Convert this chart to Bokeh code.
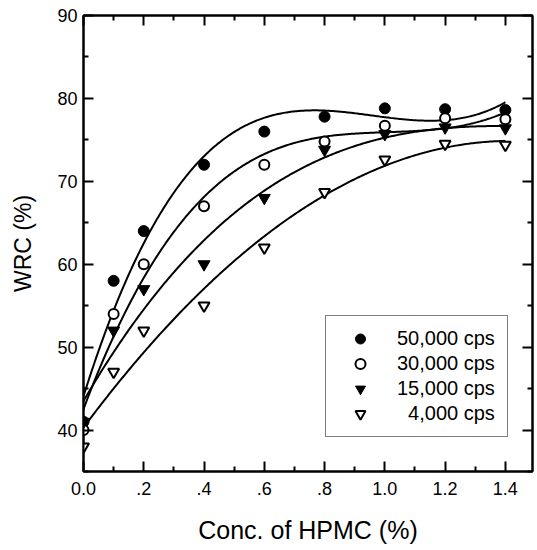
import numpy as np
from bokeh.plotting import figure
from bokeh.models import (LinearAxis, FixedTicker, Range1d, Legend, LegendItem,
                          CustomJSTickFormatter)
from bokeh.embed import file_html
from bokeh.resources import INLINE

# ---- data ----
conc = [0.0, 0.1, 0.2, 0.4, 0.6, 0.8, 1.0, 1.2, 1.4]
wrc_50000 = [41.0, 58.0, 64.0, 72.0, 76.0, 77.8, 78.8, 78.7, 78.6]
wrc_30000 = [40.0, 54.0, 60.0, 67.0, 72.0, 74.8, 76.7, 77.6, 77.5]
wrc_15000 = [41.0, 52.0, 57.0, 60.0, 68.0, 73.8, 75.7, 76.5, 76.4]
wrc_4000 = [38.0, 47.0, 52.0, 55.0, 62.0, 68.7, 72.6, 74.5, 74.4]
series_labels = ["50,000 cps", "30,000 cps", "15,000 cps", "\u20074,000 cps"]
x_ticks = [0.0, 0.2, 0.4, 0.6, 0.8, 1.0, 1.2, 1.4]
x_tick_labels = ["0.0", ".2", ".4", ".6", ".8", "1.0", "1.2", "1.4"]
y_ticks = [40, 50, 60, 70, 80, 90]

FONT = "Liberation Sans"

p = figure(width=537, height=550, output_backend="svg", toolbar_location=None,
           x_range=Range1d(0, 1.49), y_range=Range1d(35, 90),
           min_border_left=83, min_border_right=5, min_border_top=15,
           min_border_bottom=79, x_axis_label="Conc. of HPMC (%)",
           y_axis_label="WRC (%)")
p.grid.visible = False
p.outline_line_color = "black"
p.outline_line_width = 2
p.background_fill_color = "white"
p.border_fill_color = "white"

def style_axis(ax, labels=True):
    ax.axis_line_color = "black"
    ax.axis_line_width = 2
    ax.major_tick_line_width = 2
    ax.minor_tick_line_width = 2
    ax.major_tick_in = 10
    ax.major_tick_out = 0
    ax.minor_tick_in = 5
    ax.minor_tick_out = 0
    ax.major_label_text_font = FONT
    ax.major_label_text_font_size = "18px"
    ax.major_label_text_color = "black"
    ax.axis_label_text_font = FONT
    ax.axis_label_text_font_style = "normal"
    ax.axis_label_text_color = "black"
    if not labels:
        ax.major_label_text_font_size = "0px"
        ax.major_label_standoff = 0
        ax.formatter = CustomJSTickFormatter(code="return ''")

xt = FixedTicker(ticks=x_ticks, minor_ticks=[0.1, 0.3, 0.5, 0.7, 0.9, 1.1, 1.3])
yt = FixedTicker(ticks=y_ticks, minor_ticks=[35, 45, 55, 65, 75, 85])

xa = p.xaxis[0]
xa.ticker = xt
xa.major_label_overrides = {t: s for t, s in zip(x_ticks, x_tick_labels)}
style_axis(xa)
xa.major_label_standoff = 10
xa.axis_label_text_font_size = "25px"
xa.axis_label_standoff = 18

ya = p.yaxis[0]
ya.ticker = yt
style_axis(ya)
ya.major_label_standoff = 6
ya.axis_label_text_font_size = "23px"
ya.axis_label_standoff = 18

top = LinearAxis(ticker=xt)
style_axis(top, labels=False)
p.add_layout(top, "above")
right = LinearAxis(ticker=yt)
style_axis(right, labels=False)
p.add_layout(right, "right")

# fitted curves
xs = np.linspace(0, 1.4, 300)
series = [wrc_50000, wrc_30000, wrc_15000, wrc_4000]
for ys in series:
    coef = np.polyfit(conc, ys, 3)
    p.line(xs, np.polyval(coef, xs), line_color="black", line_width=2)

r1 = p.scatter(conc, wrc_50000, marker="circle", size=11, fill_color="black",
               line_color="black", line_width=1)
r2 = p.scatter(conc, wrc_30000, marker="circle", size=10, fill_color="white",
               line_color="black", line_width=2)
r3 = p.scatter(conc, wrc_15000, marker="inverted_triangle", size=12,
               fill_color="black", line_color="black", line_width=1)
r4 = p.scatter(conc, wrc_4000, marker="inverted_triangle", size=11,
               fill_color="white", line_color="black", line_width=2)

legend = Legend(items=[LegendItem(label=l, renderers=[r]) for l, r in
                       zip(series_labels, [r1, r2, r3, r4])],
                location=(242, 34))
legend.border_line_color = "black"
legend.border_line_width = 1
legend.background_fill_color = "white"
legend.background_fill_alpha = 1
legend.label_text_font = FONT
legend.label_text_font_size = "20px"
legend.label_text_color = "black"
legend.glyph_width = 48
legend.glyph_height = 25
legend.label_height = 25
legend.label_width = 100
legend.label_standoff = 13
legend.spacing = 0
legend.padding = 10
legend.margin = 0
p.add_layout(legend, "center")

open("out.html", "w").write(file_html(p, INLINE))
